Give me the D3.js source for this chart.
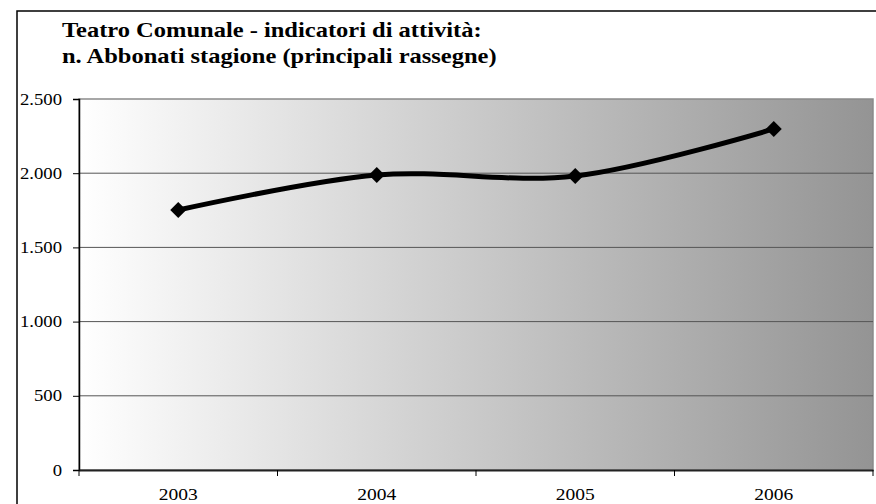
<!DOCTYPE html>
<html><head><meta charset="utf-8">
<script src="https://cdn.jsdelivr.net/npm/d3@7"></script>
<style>html,body{margin:0;padding:0;background:#fff;overflow:hidden}
text{font-family:"Liberation Serif","Times New Roman","DejaVu Serif",serif}</style>
</head><body>
<svg id="chart" width="876" height="504"></svg>
<script>
const titleLines = ["Teatro Comunale - indicatori di attività:", "n. Abbonati stagione (principali rassegne)"];
const categories = ["2003", "2004", "2005", "2006"];
const values = [1752, 1988, 1981, 2298];
const yTicks = [0, 500, 1000, 1500, 2000, 2500];

const svg = d3.select("#chart");
const m = {left: 79, top: 99, right: 873, bottom: 470};
const FONT = "Liberation Serif";

const defs = svg.append("defs");
const grad = defs.append("linearGradient").attr("id", "bg").attr("x1", 0).attr("x2", 1).attr("y1", 0).attr("y2", 0);
grad.append("stop").attr("offset", "0%").attr("stop-color", "#ffffff");
grad.append("stop").attr("offset", "100%").attr("stop-color", "#949494");

svg.append("rect").attr("x", 17).attr("y", 11).attr("width", 900).attr("height", 600)
  .attr("fill", "#fff").attr("stroke", "#000").attr("stroke-width", 1.5);

const x = d3.scaleBand().domain(categories).range([m.left, m.right]).padding(0);
const y = d3.scaleLinear().domain([0, 2500]).range([m.bottom, m.top]);

svg.append("rect").attr("x", m.left).attr("y", m.top).attr("width", m.right - m.left).attr("height", m.bottom - m.top)
  .attr("fill", "url(#bg)").attr("stroke", "#8a8a8a").attr("stroke-width", 1.5);

svg.append("g").selectAll("line").data(yTicks.filter(d => d > 0 && d < 2500)).join("line")
  .attr("x1", m.left).attr("x2", m.right).attr("y1", d => y(d)).attr("y2", d => y(d))
  .attr("stroke", "#555").attr("stroke-width", 1);

const fmt = d => d3.format(",")(d).replace(/,/g, ".");
const yAxis = svg.append("g").attr("transform", `translate(${m.left},0)`)
  .call(d3.axisLeft(y).tickValues(yTicks).tickFormat(fmt).tickSize(6));
yAxis.select(".domain").attr("stroke", "#000").attr("stroke-width", 1.5);
yAxis.selectAll(".tick line").attr("stroke", "#000");
const yt = yAxis.selectAll("text").attr("font-family", FONT).attr("font-size", 16).attr("fill", "#000")
  .attr("x", 0).attr("text-anchor", "end");
// horizontal stretch to match the reference's wide glyphs
const refW = yt.filter(d => d === 2500).node().getComputedTextLength();
const sy = 42 / refW;
yt.attr("transform", `translate(-17,0) scale(${sy},1)`);

const xAxis = svg.append("g").attr("transform", `translate(0,${m.bottom})`)
  .call(d3.axisBottom(x).tickSize(0));
xAxis.select(".domain").attr("stroke", "#222").attr("stroke-width", 2);
const xt = xAxis.selectAll("text").attr("font-family", FONT).attr("font-size", 17).attr("fill", "#000")
  .attr("y", 30).attr("dy", 0);
const sx = 39 / xt.node().getComputedTextLength();
xt.attr("transform", `scale(${sx},1)`);

const bounds = categories.map(c => x(c)).concat([x(categories[categories.length - 1]) + x.bandwidth()]);
svg.append("g").selectAll("line").data(bounds).join("line")
  .attr("x1", d => d).attr("x2", d => d).attr("y1", m.bottom).attr("y2", m.bottom + 6)
  .attr("stroke", "#000").attr("stroke-width", 1);

const cx = c => x(c) + x.bandwidth() / 2;
const line = d3.line().x((d, i) => cx(categories[i])).y(d => y(d)).curve(d3.curveCardinal.tension(0));
svg.append("path").datum(values).attr("d", line).attr("fill", "none")
  .attr("stroke", "#000").attr("stroke-width", 5).attr("stroke-linejoin", "round");

svg.append("g").selectAll("path").data(values).join("path")
  .attr("transform", (d, i) => `translate(${cx(categories[i])},${y(d)})`)
  .attr("d", "M0,-8L8,0L0,8L-8,0Z").attr("fill", "#000");

const tt = svg.append("g").selectAll("text").data(titleLines).join("text")
  .attr("x", 0).attr("y", 0)
  .attr("font-family", FONT)
  .attr("font-weight", "bold").attr("font-size", 21).attr("fill", "#000")
  .text(d => d);
const st = 435 / tt.filter((d, i) => i === 1).node().getComputedTextLength();
tt.attr("transform", (d, i) => `translate(62,${37 + i * 26}) scale(${st},1)`);
</script>
</body></html>
